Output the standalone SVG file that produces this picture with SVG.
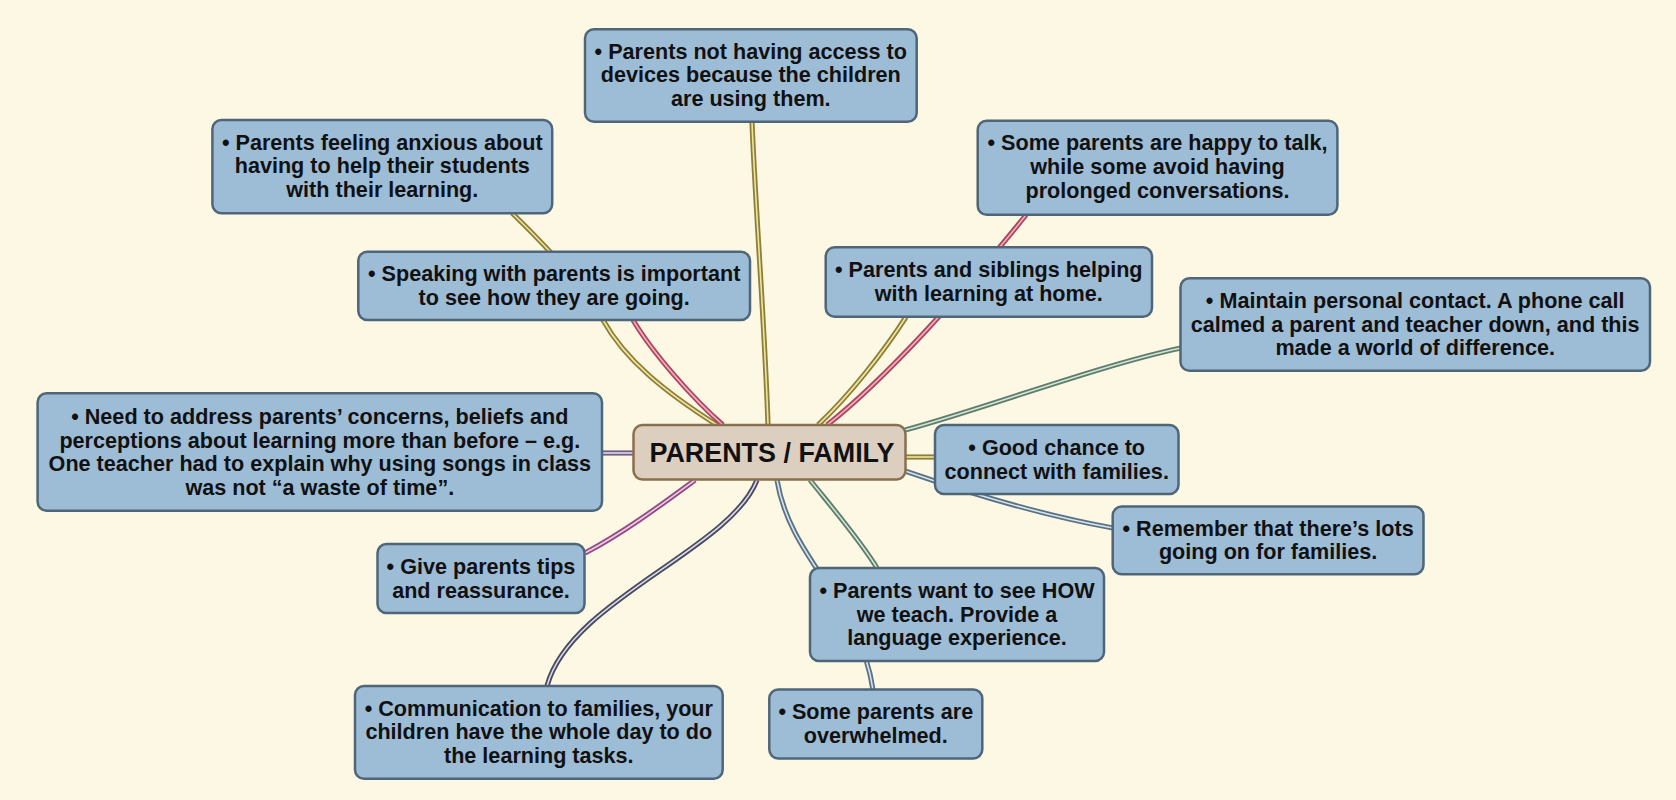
<svg xmlns="http://www.w3.org/2000/svg" xmlns:xlink="http://www.w3.org/1999/xlink" width="1676" height="800" viewBox="0 0 1676 800">
<style>
.bg{fill:#fdf8e4}
.node rect{fill:#9dbcd6;stroke:#4f6578;stroke-width:2.5}
.center rect{fill:#dccfc0;stroke:#8a6f4e;stroke-width:2.5}
text{font-family:"Liberation Sans",Arial,sans-serif;font-weight:bold;fill:#111;text-anchor:middle}
.node text{font-size:21.6px}
.center text{font-size:27px}
.o{stroke-width:5.2}
.i{stroke-width:1.6}
.yo{stroke:#8c7f3c}.yi{stroke:#f1e49a}
.po{stroke:#a8485f}.pi{stroke:#f5aabd}
.go{stroke:#5f7d6c}.gi{stroke:#d2e5d6}
.bo{stroke:#5a7283}.bi{stroke:#d3e4ef}
.vo{stroke:#6e5f85}.vi{stroke:#e2d6ef}
.mo{stroke:#8e4c84}.mi{stroke:#f3c7e6}
.do{stroke:#4b4a62}.di{stroke:#dcdce6}
</style>
<defs>
<path id="c1" fill="none" d="M717,425 C665,392 625,360 603,320 C585,288 545,245 512,213"/>
<path id="c2" fill="none" d="M723,425 C692,398 652,352 633,320"/>
<path id="c3" fill="none" d="M768,425 C765,330 755,200 752,122"/>
<path id="c4" fill="none" d="M818,425 C850,395 885,350 906,317"/>
<path id="c5" fill="none" d="M827,425 C885,380 970,285 1026,215"/>
<path id="c6" fill="none" d="M905,430 C980,410 1100,365 1181,348"/>
<path id="c7" fill="none" d="M905,457 L935,457"/>
<path id="c8" fill="none" d="M905,471 C960,490 1040,515 1113,528"/>
<path id="c9" fill="none" d="M810,480 C830,505 860,540 877,568"/>
<path id="c10" fill="none" d="M777,480 C790,560 860,600 873,690"/>
<path id="c11" fill="none" d="M633,453 L602,453"/>
<path id="c12" fill="none" d="M695,480 C665,502 625,532 585,553"/>
<path id="c13" fill="none" d="M757,480 C730,550 570,600 547,686"/>
</defs>
<rect class="bg" x="0" y="0" width="1676" height="800"/>
<g id="connectors">
<use xlink:href="#c1" class="o yo"/><use xlink:href="#c1" class="i yi"/>
<use xlink:href="#c2" class="o po"/><use xlink:href="#c2" class="i pi"/>
<use xlink:href="#c3" class="o yo"/><use xlink:href="#c3" class="i yi"/>
<use xlink:href="#c4" class="o yo"/><use xlink:href="#c4" class="i yi"/>
<use xlink:href="#c5" class="o po"/><use xlink:href="#c5" class="i pi"/>
<use xlink:href="#c6" class="o go"/><use xlink:href="#c6" class="i gi"/>
<use xlink:href="#c7" class="o yo"/><use xlink:href="#c7" class="i yi"/>
<use xlink:href="#c8" class="o bo"/><use xlink:href="#c8" class="i bi"/>
<use xlink:href="#c9" class="o go"/><use xlink:href="#c9" class="i gi"/>
<use xlink:href="#c10" class="o bo"/><use xlink:href="#c10" class="i bi"/>
<use xlink:href="#c11" class="o vo"/><use xlink:href="#c11" class="i vi"/>
<use xlink:href="#c12" class="o mo"/><use xlink:href="#c12" class="i mi"/>
<use xlink:href="#c13" class="o do"/><use xlink:href="#c13" class="i di"/>
</g>
<g id="center" class="center">
<rect x="633.5" y="425" width="272" height="54.5" rx="9"/>
<text x="772" y="462" textLength="245" lengthAdjust="spacingAndGlyphs">PARENTS / FAMILY</text>
</g>
<g id="n-devices" class="node">
<rect x="585" y="29.3" width="331.7" height="92.4" rx="9"/>
<text x="750.8" y="58.5">• Parents not having access to</text>
<text x="750.8" y="82.1">devices because the children</text>
<text x="750.8" y="105.7">are using them.</text>
</g>
<g id="n-anxious" class="node">
<rect x="212.4" y="120" width="339.8" height="93.3" rx="9"/>
<text x="382.3" y="149.7">• Parents feeling anxious about</text>
<text x="382.3" y="173.3">having to help their students</text>
<text x="382.3" y="196.9">with their learning.</text>
</g>
<g id="n-speaking" class="node">
<rect x="358.3" y="251.7" width="391.7" height="68.3" rx="9"/>
<text x="554.2" y="281.2">• Speaking with parents is important</text>
<text x="554.2" y="304.8">to see how they are going.</text>
</g>
<g id="n-happy" class="node">
<rect x="977.7" y="120.7" width="359.7" height="94" rx="9"/>
<text x="1157.5" y="150.3">• Some parents are happy to talk,</text>
<text x="1157.5" y="173.9">while some avoid having</text>
<text x="1157.5" y="197.5">prolonged conversations.</text>
</g>
<g id="n-siblings" class="node">
<rect x="825.7" y="247.3" width="326.3" height="69.4" rx="9"/>
<text x="988.8" y="277.4">• Parents and siblings helping</text>
<text x="988.8" y="301">with learning at home.</text>
</g>
<g id="n-maintain" class="node">
<rect x="1180.5" y="278.3" width="469.5" height="92.4" rx="9"/>
<text x="1415.2" y="307.9">• Maintain personal contact. A phone call</text>
<text x="1415.2" y="331.5">calmed a parent and teacher down, and this</text>
<text x="1415.2" y="355.1">made a world of difference.</text>
</g>
<g id="n-need" class="node">
<rect x="37.6" y="393.3" width="564.4" height="117.4" rx="9"/>
<text x="319.8" y="424.2">• Need to address parents’ concerns, beliefs and</text>
<text x="319.8" y="447.8">perceptions about learning more than before – e.g.</text>
<text x="319.8" y="471.4">One teacher had to explain why using songs in class</text>
<text x="319.8" y="495">was not “a waste of time”.</text>
</g>
<g id="n-good" class="node">
<rect x="935" y="425" width="243.5" height="69" rx="9"/>
<text x="1056.7" y="454.9">• Good chance to</text>
<text x="1056.7" y="478.5">connect with families.</text>
</g>
<g id="n-remember" class="node">
<rect x="1112.7" y="506.5" width="310.8" height="67.8" rx="9"/>
<text x="1268.1" y="535.8">• Remember that there’s lots</text>
<text x="1268.1" y="559.4">going on for families.</text>
</g>
<g id="n-tips" class="node">
<rect x="377.5" y="544" width="207" height="69" rx="9"/>
<text x="481" y="573.9">• Give parents tips</text>
<text x="481" y="597.5">and reassurance.</text>
</g>
<g id="n-how" class="node">
<rect x="810" y="568" width="294" height="93" rx="9"/>
<text x="957" y="598.1">• Parents want to see HOW</text>
<text x="957" y="621.7">we teach. Provide a</text>
<text x="957" y="645.3">language experience.</text>
</g>
<g id="n-comm" class="node">
<rect x="355" y="686" width="367.7" height="92.7" rx="9"/>
<text x="538.8" y="715.8">• Communication to families, your</text>
<text x="538.8" y="739.4">children have the whole day to do</text>
<text x="538.8" y="763">the learning tasks.</text>
</g>
<g id="n-overwhelmed" class="node">
<rect x="769.3" y="689.5" width="213" height="69" rx="9"/>
<text x="875.8" y="719.2">• Some parents are</text>
<text x="875.8" y="742.8">overwhelmed.</text>
</g>
</svg>
